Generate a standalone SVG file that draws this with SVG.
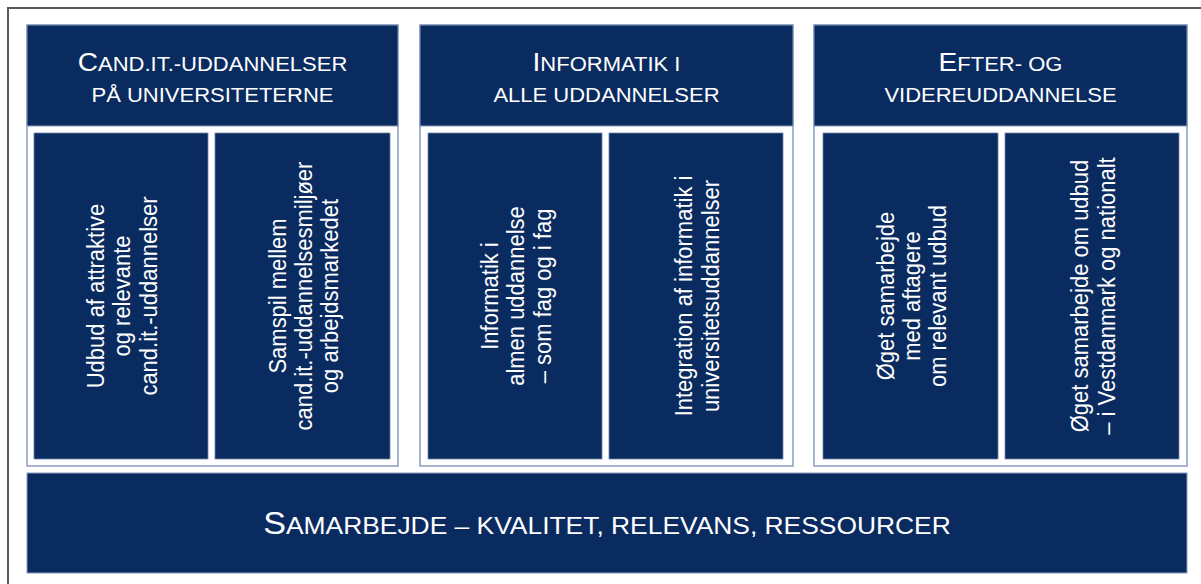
<svg xmlns="http://www.w3.org/2000/svg" width="1201" height="584" viewBox="0 0 1201 584">
  <style>
    .frame { fill: #ffffff; stroke: #5a5a5a; stroke-width: 2; }
    .col { fill: #ffffff; stroke: #8a9dbd; stroke-width: 1.5; }
    .head { fill: #0a2b5f; stroke: #8a9dbd; stroke-width: 1; }
    .box { fill: #0a2b5f; stroke: #6f86ad; stroke-width: 0.8; }
    .bar { fill: #0a2b5f; stroke: #8a9dbd; stroke-width: 1; }
    text { font-family: "Liberation Sans", Arial, sans-serif; fill: #ffffff; text-anchor: middle; }
    .ht { font-size: 20px; }
    .big { font-size: 25.5px; }
    .vt { font-size: 22px; }
    .bt { font-size: 24px; }
    .bbig { font-size: 31px; }
  </style>
  <rect class="frame" x="8" y="8" width="1210" height="600"/>

  <g id="col-cand">
    <rect class="col" x="27" y="25" width="371" height="441"/>
    <rect class="head" x="27" y="25" width="371" height="101"/>
    <g transform="translate(212.5,0) scale(1.1,1)">
      <text class="ht" x="0" y="71"><tspan class="big">C</tspan>AND.IT.-UDDANNELSER</text>
      <text class="ht" x="0" y="102">PÅ UNIVERSITETERNE</text>
    </g>
  </g>
  <g id="box-udbud">
    <rect class="box" x="34" y="133" width="174" height="326"/>
    <text class="vt" transform="translate(121,296) scale(1.1,1) rotate(-90)"><tspan x="0" y="-15.4">Udbud af attraktive</tspan><tspan x="0" y="8.6">og relevante</tspan><tspan x="0" y="32.6">cand.it.-uddannelser</tspan></text>
  </g>
  <g id="box-samspil">
    <rect class="box" x="215" y="133" width="175" height="326"/>
    <text class="vt" transform="translate(302.5,296) scale(1.1,1) rotate(-90)"><tspan x="0" y="-15.4">Samspil mellem</tspan><tspan x="0" y="8.6">cand.it.-uddannelsesmiljøer</tspan><tspan x="0" y="32.6">og arbejdsmarkedet</tspan></text>
  </g>

  <g id="col-informatik">
    <rect class="col" x="420" y="25" width="373" height="441"/>
    <rect class="head" x="420" y="25" width="373" height="101"/>
    <g transform="translate(606.5,0) scale(1.1,1)">
      <text class="ht" x="0" y="71"><tspan class="big">I</tspan>NFORMATIK I</text>
      <text class="ht" x="0" y="102">ALLE UDDANNELSER</text>
    </g>
  </g>
  <g id="box-almen">
    <rect class="box" x="428" y="133" width="174" height="326"/>
    <text class="vt" transform="translate(515,296) scale(1.1,1) rotate(-90)"><tspan x="0" y="-15.4">Informatik i</tspan><tspan x="0" y="8.6">almen uddannelse</tspan><tspan x="0" y="32.6">– som fag og i fag</tspan></text>
  </g>
  <g id="box-integration">
    <rect class="box" x="609" y="133" width="174" height="326"/>
    <text class="vt" transform="translate(696,296) scale(1.1,1) rotate(-90)"><tspan x="0" y="-3.4">Integration af informatik i</tspan><tspan x="0" y="20.6">universitetsuddannelser</tspan></text>
  </g>

  <g id="col-efter">
    <rect class="col" x="814" y="25" width="373" height="441"/>
    <rect class="head" x="814" y="25" width="373" height="101"/>
    <g transform="translate(1000.5,0) scale(1.1,1)">
      <text class="ht" x="0" y="71"><tspan class="big">E</tspan>FTER- OG</text>
      <text class="ht" x="0" y="102">VIDEREUDDANNELSE</text>
    </g>
  </g>
  <g id="box-aftagere">
    <rect class="box" x="823" y="133" width="175" height="326"/>
    <text class="vt" transform="translate(910.5,296) scale(1.1,1) rotate(-90)"><tspan x="0" y="-15.4">Øget samarbejde</tspan><tspan x="0" y="8.6">med aftagere</tspan><tspan x="0" y="32.6">om relevant udbud</tspan></text>
  </g>
  <g id="box-vestdanmark">
    <rect class="box" x="1005" y="133" width="174" height="326"/>
    <text class="vt" transform="translate(1092,296) scale(1.1,1) rotate(-90)"><tspan x="0" y="-3.4">Øget samarbejde om udbud</tspan><tspan x="0" y="20.6">– i Vestdanmark og nationalt</tspan></text>
  </g>

  <g id="bar-samarbejde">
    <rect class="bar" x="27" y="473" width="1160" height="100"/>
    <g transform="translate(607,0) scale(1.1,1)">
      <text class="bt" x="0" y="534.5"><tspan class="bbig">S</tspan>AMARBEJDE – KVALITET, RELEVANS, RESSOURCER</text>
    </g>
  </g>

  <g id="connectors"/>
</svg>
